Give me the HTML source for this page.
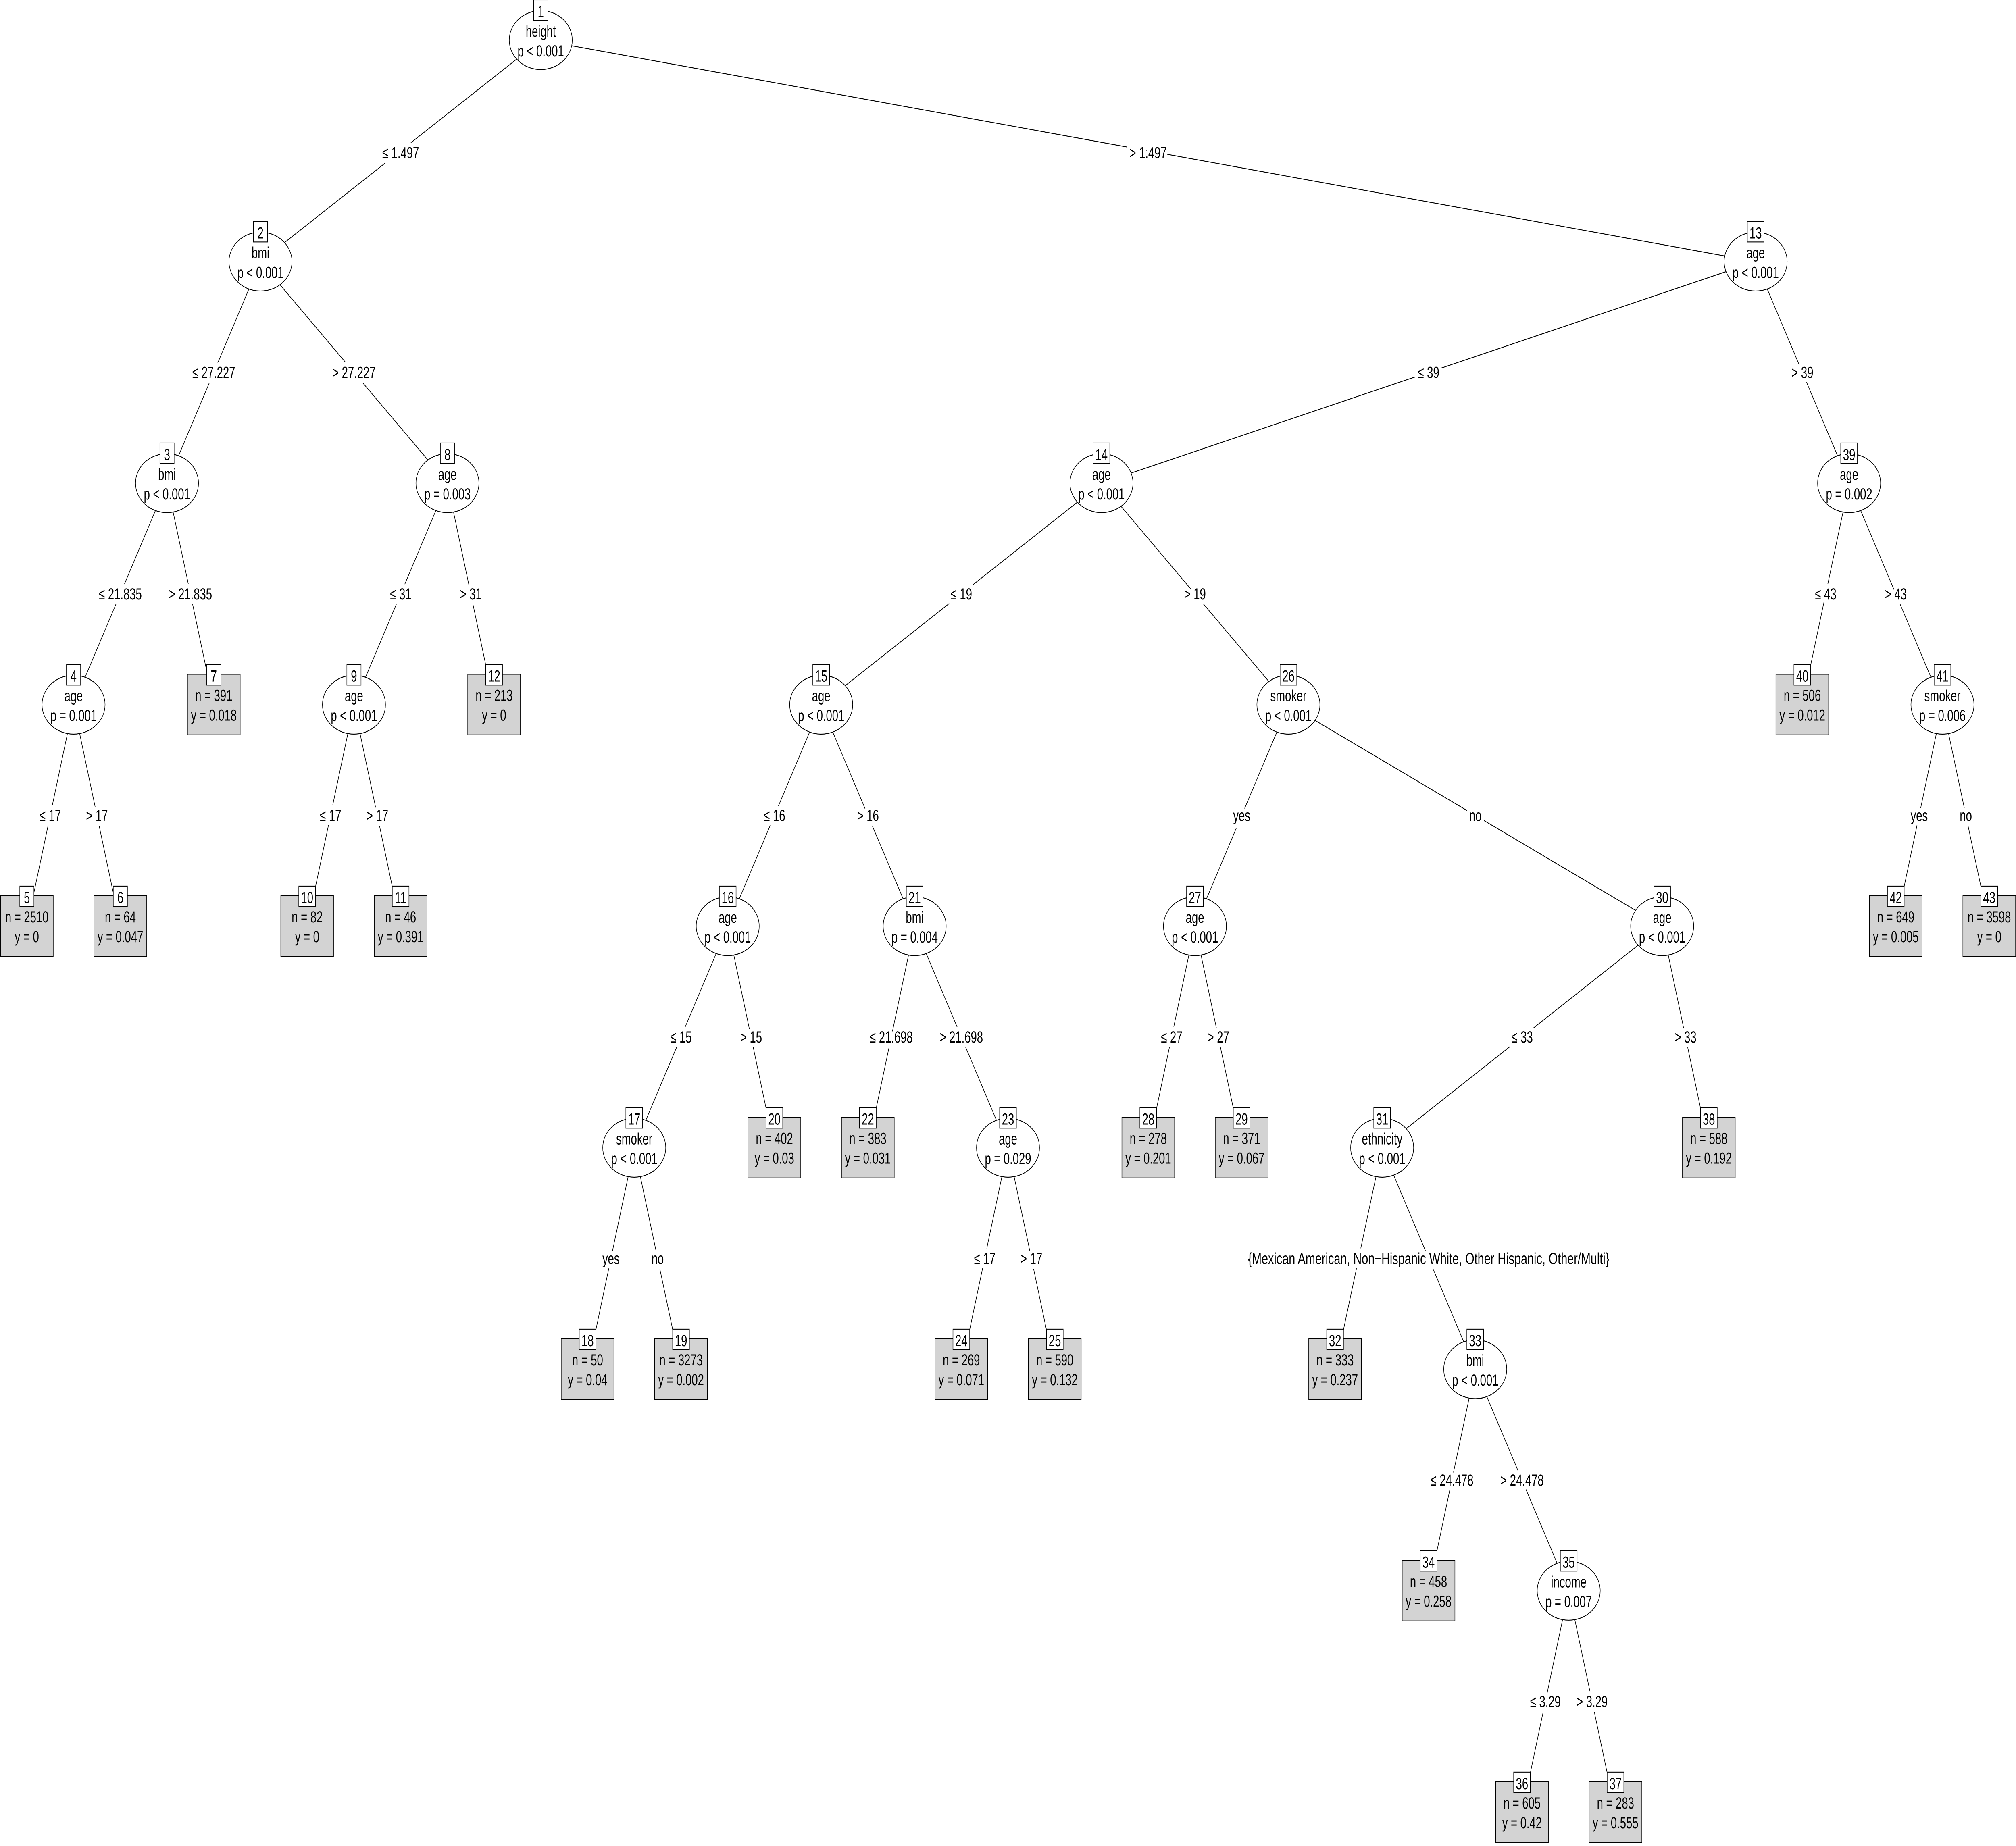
<!DOCTYPE html>
<html><head><meta charset="utf-8">
<style>
html,body{margin:0;padding:0;background:#fff;width:100%;height:100%;overflow:hidden;}
svg{display:block;width:100vw;height:100vh;}
text{font-family:"Liberation Sans",Arial,sans-serif;font-size:8.6px;text-anchor:middle;fill:#000;}
.l{stroke:#000;stroke-width:0.45;fill:none;}
.lab{stroke:#fff;stroke-width:5;paint-order:stroke;stroke-linejoin:round;}
ellipse{fill:#fff;stroke:#000;stroke-width:0.45;}
.nb{fill:#fff;stroke:#000;stroke-width:0.45;}
.lf{fill:#d3d3d3;stroke:#000;stroke-width:0.45;}
</style></head><body>
<svg viewBox="0 0 1568 990" preserveAspectRatio="none" xmlns="http://www.w3.org/2000/svg">
<rect width="1568" height="990" fill="#fff"/>
<g class="l">
<line x1="420.6" y1="21.5" x2="202.6" y2="140.3"/>
<line x1="420.6" y1="21.5" x2="1365.5" y2="140.3"/>
<line x1="202.6" y1="140.3" x2="129.9" y2="259.1"/>
<line x1="202.6" y1="140.3" x2="348" y2="259.1"/>
<line x1="129.9" y1="259.1" x2="57.2" y2="377.9"/>
<line x1="129.9" y1="259.1" x2="166.3" y2="377.9"/>
<line x1="57.2" y1="377.9" x2="20.9" y2="496.7"/>
<line x1="57.2" y1="377.9" x2="93.6" y2="496.7"/>
<line x1="348" y1="259.1" x2="275.3" y2="377.9"/>
<line x1="348" y1="259.1" x2="384.3" y2="377.9"/>
<line x1="275.3" y1="377.9" x2="238.9" y2="496.7"/>
<line x1="275.3" y1="377.9" x2="311.6" y2="496.7"/>
<line x1="1365.5" y1="140.3" x2="856.7" y2="259.1"/>
<line x1="1365.5" y1="140.3" x2="1438.2" y2="259.1"/>
<line x1="856.7" y1="259.1" x2="638.7" y2="377.9"/>
<line x1="856.7" y1="259.1" x2="1002.1" y2="377.9"/>
<line x1="638.7" y1="377.9" x2="566" y2="496.7"/>
<line x1="638.7" y1="377.9" x2="711.4" y2="496.7"/>
<line x1="566" y1="496.7" x2="493.3" y2="615.5"/>
<line x1="566" y1="496.7" x2="602.3" y2="615.5"/>
<line x1="493.3" y1="615.5" x2="457" y2="734.3"/>
<line x1="493.3" y1="615.5" x2="529.7" y2="734.3"/>
<line x1="711.4" y1="496.7" x2="675" y2="615.5"/>
<line x1="711.4" y1="496.7" x2="784" y2="615.5"/>
<line x1="784" y1="615.5" x2="747.7" y2="734.3"/>
<line x1="784" y1="615.5" x2="820.4" y2="734.3"/>
<line x1="1002.1" y1="377.9" x2="929.4" y2="496.7"/>
<line x1="1002.1" y1="377.9" x2="1292.8" y2="496.7"/>
<line x1="929.4" y1="496.7" x2="893.1" y2="615.5"/>
<line x1="929.4" y1="496.7" x2="965.7" y2="615.5"/>
<line x1="1292.8" y1="496.7" x2="1075" y2="615.5"/>
<line x1="1292.8" y1="496.7" x2="1329.1" y2="615.5"/>
<line x1="1075" y1="615.5" x2="1038.4" y2="734.3"/>
<line x1="1075" y1="615.5" x2="1147.4" y2="734.3"/>
<line x1="1147.4" y1="734.3" x2="1111.1" y2="853.1"/>
<line x1="1147.4" y1="734.3" x2="1220.1" y2="853.1"/>
<line x1="1220.1" y1="853.1" x2="1183.8" y2="971.9"/>
<line x1="1220.1" y1="853.1" x2="1256.5" y2="971.9"/>
<line x1="1438.2" y1="259.1" x2="1401.8" y2="377.9"/>
<line x1="1438.2" y1="259.1" x2="1510.8" y2="377.9"/>
<line x1="1510.8" y1="377.9" x2="1474.5" y2="496.7"/>
<line x1="1510.8" y1="377.9" x2="1547.2" y2="496.7"/>
</g>
<g class="lab">
<text x="311.6" y="84.9">≤ 1.497</text>
<text x="893" y="84.9">&gt; 1.497</text>
<text x="166.3" y="202.7">≤ 27.227</text>
<text x="275.3" y="202.7">&gt; 27.227</text>
<text x="1111.1" y="202.7">≤ 39</text>
<text x="1401.9" y="202.7">&gt; 39</text>
<text x="93.6" y="321.5">≤ 21.835</text>
<text x="148.1" y="321.5">&gt; 21.835</text>
<text x="311.7" y="321.5">≤ 31</text>
<text x="366.2" y="321.5">&gt; 31</text>
<text x="747.7" y="321.5">≤ 19</text>
<text x="929.4" y="321.5">&gt; 19</text>
<text x="1420" y="321.5">≤ 43</text>
<text x="1474.5" y="321.5">&gt; 43</text>
<text x="39.1" y="440.3">≤ 17</text>
<text x="75.4" y="440.3">&gt; 17</text>
<text x="257.1" y="440.3">≤ 17</text>
<text x="293.5" y="440.3">&gt; 17</text>
<text x="602.4" y="440.3">≤ 16</text>
<text x="675.1" y="440.3">&gt; 16</text>
<text x="965.8" y="440.3">yes</text>
<text x="1147.5" y="440.3">no</text>
<text x="1492.7" y="440.3">yes</text>
<text x="1529" y="440.3">no</text>
<text x="529.7" y="559.1">≤ 15</text>
<text x="584.2" y="559.1">&gt; 15</text>
<text x="693.2" y="559.1">≤ 21.698</text>
<text x="747.7" y="559.1">&gt; 21.698</text>
<text x="911.3" y="559.1">≤ 27</text>
<text x="947.6" y="559.1">&gt; 27</text>
<text x="1183.9" y="559.1">≤ 33</text>
<text x="1311" y="559.1">&gt; 33</text>
<text x="475.2" y="677.9">yes</text>
<text x="511.5" y="677.9">no</text>
<text x="765.9" y="677.9">≤ 17</text>
<text x="802.2" y="677.9">&gt; 17</text>
<text x="1111.2" y="677.9" textLength="281" lengthAdjust="spacingAndGlyphs">{Mexican American, Non−Hispanic White, Other Hispanic, Other/Multi}</text>
<text x="1129.3" y="796.7">≤ 24.478</text>
<text x="1183.8" y="796.7">&gt; 24.478</text>
<text x="1202" y="915.5">≤ 3.29</text>
<text x="1238.3" y="915.5">&gt; 3.29</text>
</g>

<g transform="translate(420.6,21.5)"><ellipse rx="24.5" ry="15.8"/><rect class="nb" x="-5.5" y="-21.5" width="11" height="11"/><text y="-12.4">1</text><text y="-1.8">height</text><text y="8.8">p &lt; 0.001</text></g>
<g transform="translate(202.6,140.3)"><ellipse rx="24.5" ry="15.8"/><rect class="nb" x="-5.5" y="-21.5" width="11" height="11"/><text y="-12.4">2</text><text y="-1.8">bmi</text><text y="8.8">p &lt; 0.001</text></g>
<g transform="translate(129.9,259.1)"><ellipse rx="24.5" ry="15.8"/><rect class="nb" x="-5.5" y="-21.5" width="11" height="11"/><text y="-12.4">3</text><text y="-1.8">bmi</text><text y="8.8">p &lt; 0.001</text></g>
<g transform="translate(57.2,377.9)"><ellipse rx="24.5" ry="15.8"/><rect class="nb" x="-5.5" y="-21.5" width="11" height="11"/><text y="-12.4">4</text><text y="-1.8">age</text><text y="8.8">p = 0.001</text></g>
<g transform="translate(348,259.1)"><ellipse rx="24.5" ry="15.8"/><rect class="nb" x="-5.5" y="-21.5" width="11" height="11"/><text y="-12.4">8</text><text y="-1.8">age</text><text y="8.8">p = 0.003</text></g>
<g transform="translate(275.3,377.9)"><ellipse rx="24.5" ry="15.8"/><rect class="nb" x="-5.5" y="-21.5" width="11" height="11"/><text y="-12.4">9</text><text y="-1.8">age</text><text y="8.8">p &lt; 0.001</text></g>
<g transform="translate(1365.5,140.3)"><ellipse rx="24.5" ry="15.8"/><rect class="nb" x="-6.5" y="-21.5" width="13" height="11"/><text y="-12.4">13</text><text y="-1.8">age</text><text y="8.8">p &lt; 0.001</text></g>
<g transform="translate(856.7,259.1)"><ellipse rx="24.5" ry="15.8"/><rect class="nb" x="-6.5" y="-21.5" width="13" height="11"/><text y="-12.4">14</text><text y="-1.8">age</text><text y="8.8">p &lt; 0.001</text></g>
<g transform="translate(638.7,377.9)"><ellipse rx="24.5" ry="15.8"/><rect class="nb" x="-6.5" y="-21.5" width="13" height="11"/><text y="-12.4">15</text><text y="-1.8">age</text><text y="8.8">p &lt; 0.001</text></g>
<g transform="translate(566,496.7)"><ellipse rx="24.5" ry="15.8"/><rect class="nb" x="-6.5" y="-21.5" width="13" height="11"/><text y="-12.4">16</text><text y="-1.8">age</text><text y="8.8">p &lt; 0.001</text></g>
<g transform="translate(493.3,615.5)"><ellipse rx="24.5" ry="15.8"/><rect class="nb" x="-6.5" y="-21.5" width="13" height="11"/><text y="-12.4">17</text><text y="-1.8">smoker</text><text y="8.8">p &lt; 0.001</text></g>
<g transform="translate(711.4,496.7)"><ellipse rx="24.5" ry="15.8"/><rect class="nb" x="-6.5" y="-21.5" width="13" height="11"/><text y="-12.4">21</text><text y="-1.8">bmi</text><text y="8.8">p = 0.004</text></g>
<g transform="translate(784,615.5)"><ellipse rx="24.5" ry="15.8"/><rect class="nb" x="-6.5" y="-21.5" width="13" height="11"/><text y="-12.4">23</text><text y="-1.8">age</text><text y="8.8">p = 0.029</text></g>
<g transform="translate(1002.1,377.9)"><ellipse rx="24.5" ry="15.8"/><rect class="nb" x="-6.5" y="-21.5" width="13" height="11"/><text y="-12.4">26</text><text y="-1.8">smoker</text><text y="8.8">p &lt; 0.001</text></g>
<g transform="translate(929.4,496.7)"><ellipse rx="24.5" ry="15.8"/><rect class="nb" x="-6.5" y="-21.5" width="13" height="11"/><text y="-12.4">27</text><text y="-1.8">age</text><text y="8.8">p &lt; 0.001</text></g>
<g transform="translate(1292.8,496.7)"><ellipse rx="24.5" ry="15.8"/><rect class="nb" x="-6.5" y="-21.5" width="13" height="11"/><text y="-12.4">30</text><text y="-1.8">age</text><text y="8.8">p &lt; 0.001</text></g>
<g transform="translate(1075,615.5)"><ellipse rx="24.5" ry="15.8"/><rect class="nb" x="-6.5" y="-21.5" width="13" height="11"/><text y="-12.4">31</text><text y="-1.8">ethnicity</text><text y="8.8">p &lt; 0.001</text></g>
<g transform="translate(1147.4,734.3)"><ellipse rx="24.5" ry="15.8"/><rect class="nb" x="-6.5" y="-21.5" width="13" height="11"/><text y="-12.4">33</text><text y="-1.8">bmi</text><text y="8.8">p &lt; 0.001</text></g>
<g transform="translate(1220.1,853.1)"><ellipse rx="24.5" ry="15.8"/><rect class="nb" x="-6.5" y="-21.5" width="13" height="11"/><text y="-12.4">35</text><text y="-1.8">income</text><text y="8.8">p = 0.007</text></g>
<g transform="translate(1438.2,259.1)"><ellipse rx="24.5" ry="15.8"/><rect class="nb" x="-6.5" y="-21.5" width="13" height="11"/><text y="-12.4">39</text><text y="-1.8">age</text><text y="8.8">p = 0.002</text></g>
<g transform="translate(1510.8,377.9)"><ellipse rx="24.5" ry="15.8"/><rect class="nb" x="-6.5" y="-21.5" width="13" height="11"/><text y="-12.4">41</text><text y="-1.8">smoker</text><text y="8.8">p = 0.006</text></g>

<g transform="translate(20.9,496.7)"><rect class="lf" x="-20.5" y="-16.3" width="41" height="32.5"/><rect class="nb" x="-5.5" y="-21.5" width="11" height="11"/><text y="-12.4">5</text><text y="-2">n = 2510</text><text y="8.6">y = 0</text></g>
<g transform="translate(93.6,496.7)"><rect class="lf" x="-20.5" y="-16.3" width="41" height="32.5"/><rect class="nb" x="-5.5" y="-21.5" width="11" height="11"/><text y="-12.4">6</text><text y="-2">n = 64</text><text y="8.6">y = 0.047</text></g>
<g transform="translate(166.3,377.9)"><rect class="lf" x="-20.5" y="-16.3" width="41" height="32.5"/><rect class="nb" x="-5.5" y="-21.5" width="11" height="11"/><text y="-12.4">7</text><text y="-2">n = 391</text><text y="8.6">y = 0.018</text></g>
<g transform="translate(238.9,496.7)"><rect class="lf" x="-20.5" y="-16.3" width="41" height="32.5"/><rect class="nb" x="-6.5" y="-21.5" width="13" height="11"/><text y="-12.4">10</text><text y="-2">n = 82</text><text y="8.6">y = 0</text></g>
<g transform="translate(311.6,496.7)"><rect class="lf" x="-20.5" y="-16.3" width="41" height="32.5"/><rect class="nb" x="-6.5" y="-21.5" width="13" height="11"/><text y="-12.4">11</text><text y="-2">n = 46</text><text y="8.6">y = 0.391</text></g>
<g transform="translate(384.3,377.9)"><rect class="lf" x="-20.5" y="-16.3" width="41" height="32.5"/><rect class="nb" x="-6.5" y="-21.5" width="13" height="11"/><text y="-12.4">12</text><text y="-2">n = 213</text><text y="8.6">y = 0</text></g>
<g transform="translate(457,734.3)"><rect class="lf" x="-20.5" y="-16.3" width="41" height="32.5"/><rect class="nb" x="-6.5" y="-21.5" width="13" height="11"/><text y="-12.4">18</text><text y="-2">n = 50</text><text y="8.6">y = 0.04</text></g>
<g transform="translate(529.7,734.3)"><rect class="lf" x="-20.5" y="-16.3" width="41" height="32.5"/><rect class="nb" x="-6.5" y="-21.5" width="13" height="11"/><text y="-12.4">19</text><text y="-2">n = 3273</text><text y="8.6">y = 0.002</text></g>
<g transform="translate(602.3,615.5)"><rect class="lf" x="-20.5" y="-16.3" width="41" height="32.5"/><rect class="nb" x="-6.5" y="-21.5" width="13" height="11"/><text y="-12.4">20</text><text y="-2">n = 402</text><text y="8.6">y = 0.03</text></g>
<g transform="translate(675,615.5)"><rect class="lf" x="-20.5" y="-16.3" width="41" height="32.5"/><rect class="nb" x="-6.5" y="-21.5" width="13" height="11"/><text y="-12.4">22</text><text y="-2">n = 383</text><text y="8.6">y = 0.031</text></g>
<g transform="translate(747.7,734.3)"><rect class="lf" x="-20.5" y="-16.3" width="41" height="32.5"/><rect class="nb" x="-6.5" y="-21.5" width="13" height="11"/><text y="-12.4">24</text><text y="-2">n = 269</text><text y="8.6">y = 0.071</text></g>
<g transform="translate(820.4,734.3)"><rect class="lf" x="-20.5" y="-16.3" width="41" height="32.5"/><rect class="nb" x="-6.5" y="-21.5" width="13" height="11"/><text y="-12.4">25</text><text y="-2">n = 590</text><text y="8.6">y = 0.132</text></g>
<g transform="translate(893.1,615.5)"><rect class="lf" x="-20.5" y="-16.3" width="41" height="32.5"/><rect class="nb" x="-6.5" y="-21.5" width="13" height="11"/><text y="-12.4">28</text><text y="-2">n = 278</text><text y="8.6">y = 0.201</text></g>
<g transform="translate(965.7,615.5)"><rect class="lf" x="-20.5" y="-16.3" width="41" height="32.5"/><rect class="nb" x="-6.5" y="-21.5" width="13" height="11"/><text y="-12.4">29</text><text y="-2">n = 371</text><text y="8.6">y = 0.067</text></g>
<g transform="translate(1038.4,734.3)"><rect class="lf" x="-20.5" y="-16.3" width="41" height="32.5"/><rect class="nb" x="-6.5" y="-21.5" width="13" height="11"/><text y="-12.4">32</text><text y="-2">n = 333</text><text y="8.6">y = 0.237</text></g>
<g transform="translate(1111.1,853.1)"><rect class="lf" x="-20.5" y="-16.3" width="41" height="32.5"/><rect class="nb" x="-6.5" y="-21.5" width="13" height="11"/><text y="-12.4">34</text><text y="-2">n = 458</text><text y="8.6">y = 0.258</text></g>
<g transform="translate(1183.8,971.9)"><rect class="lf" x="-20.5" y="-16.3" width="41" height="32.5"/><rect class="nb" x="-6.5" y="-21.5" width="13" height="11"/><text y="-12.4">36</text><text y="-2">n = 605</text><text y="8.6">y = 0.42</text></g>
<g transform="translate(1256.5,971.9)"><rect class="lf" x="-20.5" y="-16.3" width="41" height="32.5"/><rect class="nb" x="-6.5" y="-21.5" width="13" height="11"/><text y="-12.4">37</text><text y="-2">n = 283</text><text y="8.6">y = 0.555</text></g>
<g transform="translate(1329.1,615.5)"><rect class="lf" x="-20.5" y="-16.3" width="41" height="32.5"/><rect class="nb" x="-6.5" y="-21.5" width="13" height="11"/><text y="-12.4">38</text><text y="-2">n = 588</text><text y="8.6">y = 0.192</text></g>
<g transform="translate(1401.8,377.9)"><rect class="lf" x="-20.5" y="-16.3" width="41" height="32.5"/><rect class="nb" x="-6.5" y="-21.5" width="13" height="11"/><text y="-12.4">40</text><text y="-2">n = 506</text><text y="8.6">y = 0.012</text></g>
<g transform="translate(1474.5,496.7)"><rect class="lf" x="-20.5" y="-16.3" width="41" height="32.5"/><rect class="nb" x="-6.5" y="-21.5" width="13" height="11"/><text y="-12.4">42</text><text y="-2">n = 649</text><text y="8.6">y = 0.005</text></g>
<g transform="translate(1547.2,496.7)"><rect class="lf" x="-20.5" y="-16.3" width="41" height="32.5"/><rect class="nb" x="-6.5" y="-21.5" width="13" height="11"/><text y="-12.4">43</text><text y="-2">n = 3598</text><text y="8.6">y = 0</text></g>
</svg>
</body></html>
